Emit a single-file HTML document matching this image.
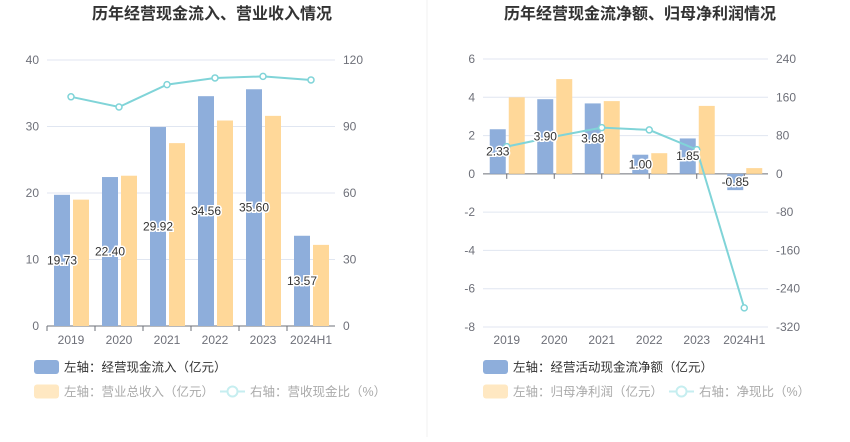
<!DOCTYPE html>
<html><head><meta charset="utf-8"><style>
body{margin:0;background:#fff;font-family:"Liberation Sans","Noto Sans CJK SC",sans-serif}
svg text{font-family:"Liberation Sans","Noto Sans CJK SC",sans-serif}
</style></head><body>
<svg id="c" width="850" height="437" xmlns="http://www.w3.org/2000/svg">
<line x1="427" y1="0" x2="427" y2="437" stroke="#f0f0f0"/>
</svg>
<script>
const cats=["2019","2020","2021","2022","2023","2024H1"];
const leftInflow=[19.73,22.40,29.92,34.56,35.60,13.57];
const leftRevenue=[19.0,22.6,27.5,30.9,31.6,12.2];
const leftRatio=[103.4,98.8,108.9,111.9,112.6,111.0];
const leftTicksL=[0,10,20,30,40];
const leftTicksR=[0,30,60,90,120];
const rightNet=[2.33,3.90,3.68,1.00,1.85,-0.85];
const rightProfit=[4.0,4.95,3.8,1.08,3.55,0.3];
const rightRatio=[57,77.8,96.6,91.8,50.7,-280];
const rightTicksL=[-8,-6,-4,-2,0,2,4,6];
const rightTicksR=[-320,-240,-160,-80,0,80,160,240];
const NS="http://www.w3.org/2000/svg";
const svg=document.getElementById('c');
function mk(t,a,p){const e=document.createElementNS(NS,t);for(const k in a)e.setAttribute(k,a[k]);(p||svg).appendChild(e);return e;}
function chart(o){
  const g=mk('g',{});
  
  
  const yL=v=>o.y0+(v-o.lmin)/(o.lmax-o.lmin)*(o.y1-o.y0);
  const yR=v=>o.y0+(v-o.rmin)/(o.rmax-o.rmin)*(o.y1-o.y0);
  const bw=(o.x1-o.x0)/cats.length;
  const cx=i=>o.x0+bw*(i+0.5);
  const t=mk('text',{x:o.tx,y:19,'text-anchor':'middle','font-size':16,'font-weight':'bold',fill:'#333'},g);t.textContent=o.title;
  
  
  o.tl.forEach((v,i)=>{
    const y=yL(v);
    if(v!==0){const l=mk('line',{x1:o.x0,x2:o.x1,y1:y,y2:y,stroke:'#e0e6f1'},g);
    
    }
    const a=mk('text',{x:o.x0-8,y:y+4,'text-anchor':'end','font-size':12,fill:'#6e7079'},g);a.textContent=v;
    
    
    const b=mk('text',{x:o.x1+8,y:yR(o.tr[i])+4,'text-anchor':'start','font-size':12,fill:'#6e7079'},g);b.textContent=o.tr[i];
    
    
  });
  const z=yL(0);
  const ax=mk('line',{x1:o.x0,x2:o.x1,y1:z,y2:z,stroke:'#6e7079'},g);
  
  
  cats.forEach((c,i)=>{
    const tx=o.tickCenter?cx(i):o.x0+bw*i;
    const tk=mk('line',{x1:tx,x2:tx,y1:z,y2:z+5,stroke:'#6e7079'},g);
    
    
    const lb=mk('text',{x:cx(i),y:o.xly,'text-anchor':'middle','font-size':12,fill:'#6e7079'},g);lb.textContent=c;
    
    
  });
  const labels=[];
  cats.forEach((c,i)=>{
    const v=o.a[i],y=yL(v);
    const r=mk('rect',{x:cx(i)-17,y:Math.min(y,z),width:16,height:Math.abs(z-y),fill:'#8eaedb'},g);
    
    
    const w=o.b[i],y2=yL(w);
    const r2=mk('rect',{x:cx(i)+2,y:Math.min(y2,z),width:16,height:Math.abs(z-y2),fill:'#ffd899'},g);
    
    
    labels.push([cx(i)-9,(y+z)/2+4,v.toFixed(2)]);
  });
  const pts=o.r.map((v,i)=>cx(i)+','+yR(v)).join(' ');
  const pl=mk('polyline',{points:pts,fill:'none',stroke:'#80d4d8','stroke-width':2},g);
  
  
  o.r.forEach((v,i)=>{const p=mk('circle',{cx:cx(i),cy:yR(v),r:3,fill:'#fff',stroke:'#80d4d8','stroke-width':1.5},g);
    
    });
  labels.forEach(L=>{const e=mk('text',{x:L[0],y:L[1],'text-anchor':'middle','font-size':12,fill:'#333',stroke:'#fff','stroke-width':3,'paint-order':'stroke'},g);e.textContent=L[2];
    
    });
  o.leg.forEach((L,i)=>{
    const y=367+L[4]*24.5, lx=o.lx+L[0];
    if(L[3]){const a=mk('line',{x1:lx,x2:lx+25,y1:y,y2:y,stroke:'#c6eef0','stroke-width':2},g);
      const b=mk('circle',{cx:lx+12.5,cy:y,r:5,fill:'#fff',stroke:'#c6eef0','stroke-width':2},g);}
    else{const a=mk('rect',{x:lx,y:y-7,width:25,height:14,rx:3,fill:L[2]},g);}
    const tt=mk('text',{x:lx+30,y:y+4.5,'font-size':12.5,fill:i==0?'#333':'#aaa'},g);tt.textContent=L[1];
    
    
  });
}
chart({name:'left-chart',title:'历年经营现金流入、营业收入情况',tx:212,x0:47,x1:335,y0:326,y1:60,lmin:0,lmax:40,rmin:0,rmax:120,
  tl:leftTicksL,tr:leftTicksR,a:leftInflow,b:leftRevenue,r:leftRatio,xly:344,tickCenter:false,lx:34,
  leg:[[0,'左轴：经营现金流入（亿元）','#8eaedb',0,0],[0,'左轴：营业总收入（亿元）','#ffe8c2',0,1],[186,'右轴：营收现金比（%）','',1,1]]});
chart({name:'right-chart',title:'历年经营现金流净额、归母净利润情况',tx:640,x0:483,x1:768,y0:327,y1:59,lmin:-8,lmax:6,rmin:-320,rmax:240,
  tl:rightTicksL,tr:rightTicksR,a:rightNet,b:rightProfit,r:rightRatio,xly:344,tickCenter:true,lx:483,
  leg:[[0,'左轴：经营活动现金流净额（亿元）','#8eaedb',0,0],[0,'左轴：归母净利润（亿元）','#ffe8c2',0,1],[186,'右轴：净现比（%）','',1,1]]});
</script>
</body></html>
